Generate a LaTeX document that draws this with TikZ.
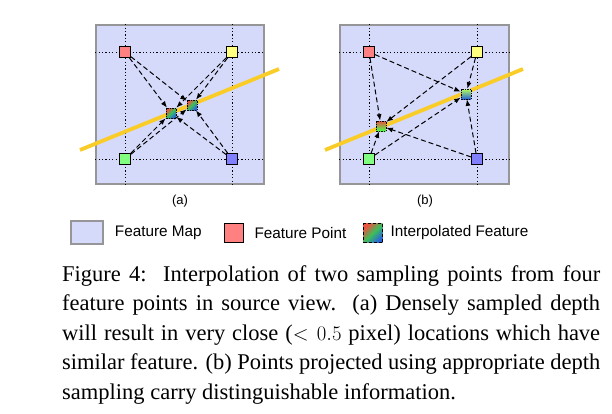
\documentclass[tikz,border=0pt]{standalone}
\usepackage{fontspec}
\setmainfont{Liberation Serif}
\setsansfont{Liberation Sans}
\usetikzlibrary{arrows.meta,backgrounds,positioning,shadows}

\definecolor{mapblue}{RGB}{214,218,250}
\definecolor{mapgray}{RGB}{150,150,152}
\definecolor{ptred}{RGB}{255,128,128}
\definecolor{ptyellow}{RGB}{255,255,128}
\definecolor{ptgreen}{RGB}{128,255,128}
\definecolor{ptblue}{RGB}{128,128,255}
\definecolor{epiyellow}{RGB}{250,204,40}
\definecolor{ipred}{RGB}{232,84,64}
\definecolor{ipgreen}{RGB}{60,190,90}
\definecolor{ipblue}{RGB}{40,100,220}

\begin{document}
\begin{tikzpicture}[x=1pt,y=-1pt,
    map/.style={draw=mapgray,line width=1.5pt,fill=mapblue,
      drop shadow={opacity=0.18,shadow xshift=1pt,shadow yshift=-1pt}},
    feat/.style={draw,line width=0.8pt,minimum size=11pt,inner sep=0pt,
      drop shadow={opacity=0.25,shadow xshift=0.8pt,shadow yshift=-0.8pt}},
    interp/.style={draw,line width=0.7pt,dash pattern=on 1.5pt off 1pt,
      minimum size=10pt,inner sep=0pt},
    grid/.style={line width=0.8pt,dash pattern=on 1.2pt off 2.2pt},
    ray/.style={draw,line width=1pt,dash pattern=on 5pt off 3pt,
      -{Latex[length=6.5pt,width=5pt]}},
    epi/.style={line width=3.8pt,draw=epiyellow},
    sub/.style={font=\sffamily\fontsize{13}{15}\selectfont},
    lgtext/.style={font=\sffamily\fontsize{15.3}{17}\selectfont,inner sep=0pt}]
  \path[use as bounding box] (0,0) rectangle (612,413);

  % (a) densely sampled depth
  \begin{scope}[every node/.style={feat}]
    \node (rA)[fill=ptred] at (125,52) {};
    \node (yA)[fill=ptyellow] at (232,52) {};
    \node (gA)[fill=ptgreen] at (125,159) {};
    \node (bA)[fill=ptblue] at (232,159) {};
  \end{scope}
  \begin{scope}[every node/.style={interp,top color=ipred,bottom color=ipblue,
      middle color=ipgreen,shading angle=45}]
    \node (pA) at (171,113) {};
    \node (qA) at (192,105) {};
  \end{scope}
  \begin{scope}[every edge/.style={ray}]
    \path (rA) edge (pA) edge (qA);
    \path (yA) edge (pA) edge (qA);
    \path (gA) edge (pA) edge (qA);
    \path (bA) edge (pA) edge (qA);
  \end{scope}
  \node (labA)[sub] at (180,201) {(a)};

  % (b) appropriate depth
  \begin{scope}[every node/.style={feat}]
    \node (rB)[fill=ptred] at (369,52) {};
    \node (yB)[fill=ptyellow] at (477,52) {};
    \node (gB)[fill=ptgreen] at (369,159) {};
    \node (bB)[fill=ptblue] at (477,159) {};
  \end{scope}
  \node (pB)[interp,top color=ipred,bottom color=ptgreen!60!green] at (381,126) {};
  \node (qB)[interp,top color=ptyellow!70!green,bottom color=ipblue] at (466,94) {};
  \begin{scope}[every edge/.style={ray}]
    \path (rB) edge (pB) edge (qB);
    \path (yB) edge (pB) edge (qB);
    \path (gB) edge (pB) edge (qB);
    \path (bB) edge (pB) edge (qB);
  \end{scope}
  \node (labB)[sub] at (425,201) {(b)};

  \begin{scope}[on background layer]
    \node (fmA)[map,minimum width=168pt,minimum height=159pt] at (180,104.5) {};
    \node (fmB)[map,minimum width=169pt,minimum height=159pt] at (424.5,104.5) {};
    \draw[grid] (fmA.north -| rA) -- (fmA.south -| rA);
    \draw[grid] (fmA.north -| yA) -- (fmA.south -| yA);
    \draw[grid] (fmA.west |- rA) -- (fmA.east |- rA);
    \draw[grid] (fmA.west |- gA) -- (fmA.east |- gA);
    \draw[grid] (fmB.north -| rB) -- (fmB.south -| rB);
    \draw[grid] (fmB.north -| yB) -- (fmB.south -| yB);
    \draw[grid] (fmB.west |- rB) -- (fmB.east |- rB);
    \draw[grid] (fmB.west |- gB) -- (fmB.east |- gB);
    \coordinate (eA1) at (80,150);
    \coordinate (eA2) at (279,69);
    \coordinate (eB1) at (325,150);
    \coordinate (eB2) at (523,69);
    \draw[epi] (eA1) -- (eA2);
    \draw[epi] (eB1) -- (eB2);
  \end{scope}

  % legend
  \node (lgMap)[map,minimum width=32pt,minimum height=23pt] at (87,232.5) {};
  \node (tMap)[lgtext,right=11pt of lgMap] {Feature Map};
  \node (lgPt)[draw,line width=1.6pt,fill=ptred,minimum size=19pt,inner sep=0pt] at (234,233) {};
  \node (tPt)[lgtext,right=10pt of lgPt] {Feature Point};
  \node (lgIp)[draw,line width=1.6pt,dash pattern=on 3pt off 2pt,minimum size=19pt,inner sep=0pt,
    top color=ipred,bottom color=ipblue,middle color=ipgreen,shading angle=45] at (373,233) {};
  \node (tIp)[lgtext,right=7pt of lgIp] {Interpolated Feature};

  % caption
  \node (cap)[anchor=base west,inner sep=0pt,font=\fontsize{22.5}{29.5}\selectfont] at (62,281)
    {\parbox[t]{538pt}{\noindent
      \makebox[538pt][s]{Figure 4:\ \ Interpolation of two sampling points from four}\\
      \makebox[538pt][s]{feature points in source view.\ \ (a) Densely sampled depth}\\
      \makebox[538pt][s]{will result in very close ($<0.5$ pixel) locations which have}\\
      \makebox[538pt][s]{similar feature. (b) Points projected using appropriate depth}\\
      sampling carry distinguishable information.}};
\end{tikzpicture}
\end{document}
